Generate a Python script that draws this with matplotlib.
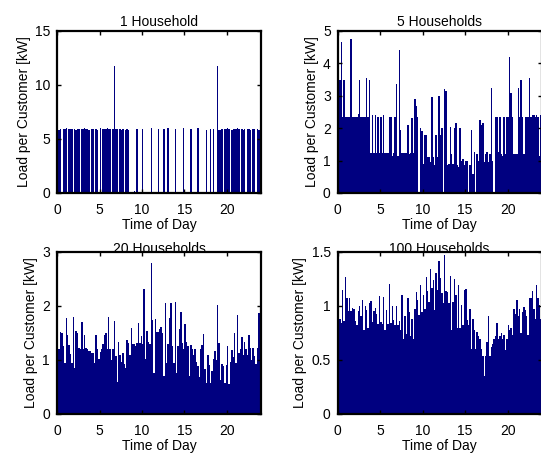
import numpy as np
import matplotlib.pyplot as plt

plt.rcParams['font.family'] = ['Liberation Sans', 'DejaVu Sans']
plt.rcParams['font.size'] = 10

# time axis: 10-minute steps over one day (bin edges)
hours = np.linspace(0, 24, 145)

# load per customer [kW], one value per 10-minute step
load_1 = [
    5.9, 5.8, 5.9, 0, 5.9, 5.9, 6.0, 0, 5.9, 5.9, 5.9, 0,
    5.9, 5.8, 5.9, 5.9, 0, 5.9, 5.9, 6.0, 5.9, 5.9, 5.8, 0,
    5.9, 5.9, 0, 5.9, 5.8, 0, 6.0, 0, 5.9, 5.9, 5.9, 6.0,
    5.9, 5.9, 0, 5.9, 11.8, 5.9, 5.9, 0, 5.9, 5.8, 5.9, 0,
    5.8, 5.9, 5.8, 0, 0, 0, 0.2, 0, 5.9, 0, 0, 0,
    5.9, 0, 0, 0, 0, 0, 6.0, 0, 0, 0, 0, 5.9,
    0, 0, 0, 5.9, 0, 0, 6.0, 0, 0, 0, 0, 5.9,
    0, 0, 0, 0, 0, 6.0, 0, 0, 0, 0, 5.9, 0,
    0, 0, 0, 6.0, 0, 0, 0, 0, 0, 5.8, 0, 0,
    5.9, 0, 5.9, 0, 0, 11.8, 5.8, 5.8, 5.9, 0, 5.9, 5.9,
    6.0, 5.9, 0, 5.8, 5.9, 5.9, 5.9, 6.0, 5.9, 0, 5.9, 5.8,
    5.9, 0, 5.9, 5.9, 5.8, 0, 5.9, 5.9, 0, 5.9, 5.8, 5.9,
]

load_5 = [
    2.35, 3.5, 4.65, 2.35, 3.5, 2.35,
    2.35, 2.35, 2.35, 4.75, 2.35, 2.35,
    2.35, 2.35, 2.45, 3.5, 2.35, 2.35,
    2.35, 2.35, 3.55, 2.35, 3.5, 1.22,
    2.4, 1.22, 2.4, 1.22, 2.35, 1.22,
    2.35, 1.22, 2.4, 1.22, 1.22, 1.22,
    2.35, 2.35, 1.15, 1.22, 2.35, 3.35,
    1.15, 4.4, 1.95, 1.22, 1.22, 1.22,
    1.22, 2.1, 1.2, 1.22, 2.3, 1.22,
    2.9, 2.7, 2.35, 0.0, 2.0, 1.9,
    0.9, 1.8, 1.8, 1.1, 1.1, 0.95,
    2.95, 1.1, 0.85, 1.8, 1.1, 3.0,
    1.8, 2.0, 0.0, 3.2, 3.15, 0.85,
    0.9, 2.05, 1.2, 0.9, 2.0, 2.15,
    0.85, 0.8, 2.0, 1.0, 1.05, 0.85,
    1.0, 1.0, 0.0, 0.85, 1.95, 0.6,
    1.25, 0.0, 1.2, 1.0, 2.25, 2.1,
    2.15, 0.95, 1.2, 1.25, 0.95, 1.2,
    3.25, 1.0, 0.0, 2.35, 2.35, 1.25,
    2.35, 1.2, 1.15, 2.35, 1.2, 2.35,
    2.35, 4.2, 3.1, 2.35, 1.2, 1.2,
    1.2, 3.25, 2.35, 3.5, 2.35, 1.2,
    2.35, 2.35, 2.35, 3.55, 2.35, 2.4,
    2.4, 2.35, 2.4, 2.35, 1.15, 2.4,
]

load_20 = [
    1.21, 1.21, 1.52, 1.5, 1.26, 0.94,
    1.78, 1.46, 1.28, 1.12, 0.95, 1.8,
    0.86, 1.53, 1.5, 1.22, 1.2, 1.7,
    1.2, 1.47, 1.22, 1.2, 1.16, 1.16,
    1.13, 1.13, 0.95, 1.47, 1.2, 1.01,
    1.15, 1.21, 1.3, 1.46, 1.5, 1.2,
    1.8, 1.2, 1.0, 1.2, 1.73, 1.08,
    0.6, 1.33, 1.1, 0.96, 1.13, 0.93,
    0.85, 1.37, 1.31, 1.1, 1.59, 1.3,
    1.3, 1.26, 1.32, 1.68, 1.32, 1.44,
    1.3, 2.31, 1.01, 1.54, 1.34, 1.3,
    2.8, 1.74, 0.75, 1.75, 1.52, 1.52,
    1.58, 1.61, 1.5, 0.7, 2.05, 0.95,
    1.3, 1.78, 2.06, 1.26, 0.95, 2.08,
    0.76, 1.26, 1.58, 1.89, 1.31, 1.2,
    1.66, 1.34, 1.25, 0.7, 1.27, 1.2,
    1.1, 1.2, 0.97, 0.89, 0.68, 1.2,
    1.28, 1.49, 0.83, 0.58, 1.1, 0.9,
    0.58, 0.79, 1.01, 1.16, 1.0, 2.01,
    1.32, 0.63, 0.92, 0.89, 0.58, 0.9,
    1.26, 0.55, 0.96, 1.18, 1.05, 1.5,
    0.94, 1.84, 1.13, 1.2, 1.42, 1.1,
    1.34, 1.2, 1.09, 1.46, 1.22, 1.0,
    1.23, 1.08, 0.92, 1.22, 1.87, 0.88,
]

load_100 = [
    0.89, 0.88, 0.84, 1.15, 0.86, 1.27,
    1.07, 0.95, 1.07, 0.95, 0.98, 0.97,
    0.86, 0.82, 0.95, 1.0, 0.91, 1.06,
    0.78, 1.0, 0.96, 0.8, 1.03, 1.05,
    0.85, 0.95, 0.98, 0.93, 0.83, 1.09,
    0.85, 0.83, 1.08, 0.78, 0.96, 0.83,
    1.2, 0.84, 1.0, 0.87, 0.82, 1.0,
    0.82, 0.86, 0.78, 1.1, 0.69, 0.91,
    0.74, 1.07, 0.94, 0.72, 0.88, 0.69,
    0.97, 1.13, 1.06, 0.92, 1.19, 0.94,
    1.1, 0.97, 1.27, 1.14, 1.04, 1.34,
    1.17, 1.24, 0.96, 1.31, 1.15, 1.42,
    1.26, 1.12, 1.03, 1.47, 1.14, 1.13,
    1.03, 1.28, 0.78, 1.04, 1.25, 1.1,
    0.8, 1.19, 0.8, 1.01, 0.82, 1.15,
    1.16, 0.87, 0.82, 0.97, 0.6, 0.88,
    0.78, 0.6, 0.76, 0.72, 0.69, 0.6,
    0.54, 0.35, 0.54, 0.67, 0.91, 0.54,
    0.62, 0.65, 0.69, 0.72, 0.84, 0.69,
    0.72, 0.75, 0.69, 0.73, 0.59, 0.69,
    0.82, 0.78, 0.8, 0.73, 0.97, 0.93,
    1.06, 0.91, 0.97, 0.75, 0.94, 0.99,
    0.96, 0.91, 0.73, 1.07, 1.07, 1.14,
    0.97, 0.88, 1.19, 1.07, 1.01, 0.88,
]

titles = ['1 Household', '5 Households', '20 Households', '100 Households']
series = [load_1, load_5, load_20, load_100]
y_ticks = [[0, 5, 10, 15], [0, 1, 2, 3, 4, 5], [0, 1, 2, 3], [0, 0.5, 1, 1.5]]
y_tick_labels = [['0', '5', '10', '15'], ['0', '1', '2', '3', '4', '5'],
                 ['0', '1', '2', '3'], ['0', '0.5', '1', '1.5']]
x_ticks = [0, 5, 10, 15, 20]

navy = '#000080'

fig = plt.figure(figsize=(5.41, 4.57), dpi=100)

# [left, bottom, width, height] in figure fraction
positions = [
    [0.1054, 0.5777, 0.377, 0.3545],
    [0.6242, 0.5777, 0.377, 0.3545],
    [0.1054, 0.0941, 0.377, 0.3545],
    [0.6242, 0.0941, 0.377, 0.3545],
]
title_pad = [3.5, 3.5, -0.8, -0.8]

for i in range(4):
    ax = fig.add_axes(positions[i])
    ax.stairs(series[i], hours, fill=True, color=navy, linewidth=0)

    ax.set_xlim(0, 24)
    ax.set_ylim(0, y_ticks[i][-1])
    ax.set_xticks(x_ticks)
    ax.set_yticks(y_ticks[i])
    ax.set_yticklabels(y_tick_labels[i])

    ax.tick_params(direction='in', top=True, right=True, length=3,
                   width=1, pad=5, labelsize=10)
    ax.tick_params(axis='x', pad=7)
    for s in ax.spines.values():
        s.set_linewidth(1.6)

    ax.set_title(titles[i], fontsize=10, pad=title_pad[i])
    ax.set_xlabel('Time of Day', fontsize=10, labelpad=1)
    ax.set_ylabel('Load per Customer [kW]', fontsize=10, labelpad=3)

fig.savefig('out.png', dpi=100)
